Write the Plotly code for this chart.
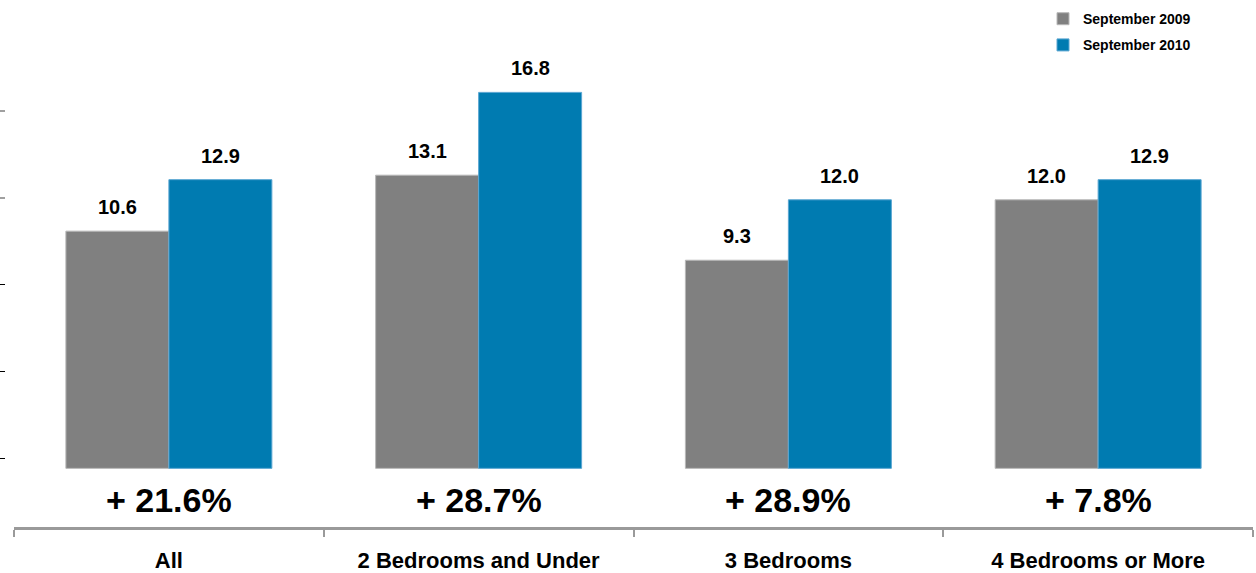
import plotly.graph_objects as go

categories = ["All", "2 Bedrooms and Under", "3 Bedrooms", "4 Bedrooms or More"]
sep_2009 = [10.6, 13.1, 9.3, 12.0]
sep_2010 = [12.9, 16.8, 12.0, 12.9]
pct_change = ["+ 21.6%", "+ 28.7%", "+ 28.9%", "+ 7.8%"]
series_names = ["September 2009", "September 2010"]

GRAY = "#808080"
BLUE = "#007BB1"
FONT = "Arial, Liberation Sans, sans-serif"

W, H = 1256, 573
ML, MR, MT, MB = 5, 3, 20, 46
plot_w = W - ML - MR
x0_frac = (14 - ML) / plot_w

fig = go.Figure()
fig.add_trace(go.Bar(
    x=categories, y=sep_2009, name=series_names[0], legendgroup="a",
    marker=dict(color=GRAY, line=dict(color="#b8b8b8", width=1)),
))
fig.add_trace(go.Bar(
    x=categories, y=sep_2010, name=series_names[1], legendgroup="b",
    marker=dict(color=BLUE, line=dict(color="#5aa6d2", width=1)),
))
# empty helper traces so the two unlabeled tick axes are rendered
fig.add_trace(go.Scatter(x=[], y=[], yaxis="y2", showlegend=False, hoverinfo="skip"))
fig.add_trace(go.Scatter(x=[], y=[], yaxis="y3", showlegend=False, hoverinfo="skip"))

annotations = []
for i, c in enumerate(categories):
    for v, sh in ((sep_2009[i], -51.5), (sep_2010[i], 51.5)):
        annotations.append(dict(
            x=c, y=v, xref="x", yref="y", text="<b>%.1f</b>" % v,
            showarrow=False, xshift=sh, yanchor="bottom", yshift=11,
            font=dict(family=FONT, size=20, color="black"),
        ))
    annotations.append(dict(
        x=c, y=-1.43, xref="x", yref="y", text="<b>%s</b>" % pct_change[i],
        showarrow=False, yanchor="middle",
        font=dict(family=FONT, size=34, color="black"),
    ))

fig.update_layout(
    width=W, height=H,
    margin=dict(l=ML, r=MR, t=MT, b=MB),
    paper_bgcolor="white", plot_bgcolor="white",
    barmode="group", bargap=0.335, bargroupgap=0,
    font=dict(family=FONT, color="black"),
    showlegend=True,
    legend=dict(
        x=(1043 - ML) / plot_w, xanchor="left", y=1 + 20 / (H - MT - MB), yanchor="top",
        font=dict(family=FONT, size=14, color="black", weight="bold"),
        traceorder="grouped", tracegroupgap=5, bgcolor="rgba(0,0,0,0)",
    ),
    xaxis=dict(
        domain=[x0_frac, 1], range=[-0.5, 3.5], automargin=False,
        showline=True, linecolor="#9a9a9a", linewidth=3,
        ticks="outside", tickson="boundaries", ticklen=7, tickwidth=2, tickcolor="#9a9a9a",
        tickfont=dict(family=FONT, size=22, color="black", weight="bold"),
        ticklabelstandoff=12, showgrid=False, zeroline=False,
    ),
    yaxis=dict(
        range=[-2.62, 19.9], visible=False, showgrid=False, zeroline=False,
        automargin=False,
    ),
    yaxis2=dict(
        overlaying="y", anchor="free", position=0, side="left", automargin=False,
        range=[-0.785, 5.01], tickvals=[0, 1, 2], ticks="outside", ticklen=5,
        tickcolor="black", tickwidth=1, showticklabels=False,
        showline=False, showgrid=False, zeroline=False,
    ),
    yaxis3=dict(
        overlaying="y", anchor="free", position=0, side="left", automargin=False,
        range=[-0.785, 5.01], tickvals=[3, 4], ticks="outside", ticklen=5,
        tickcolor="#a0a0a0", tickwidth=2, showticklabels=False,
        showline=False, showgrid=False, zeroline=False,
    ),
    annotations=annotations,
)

fig.write_html("out.html")
